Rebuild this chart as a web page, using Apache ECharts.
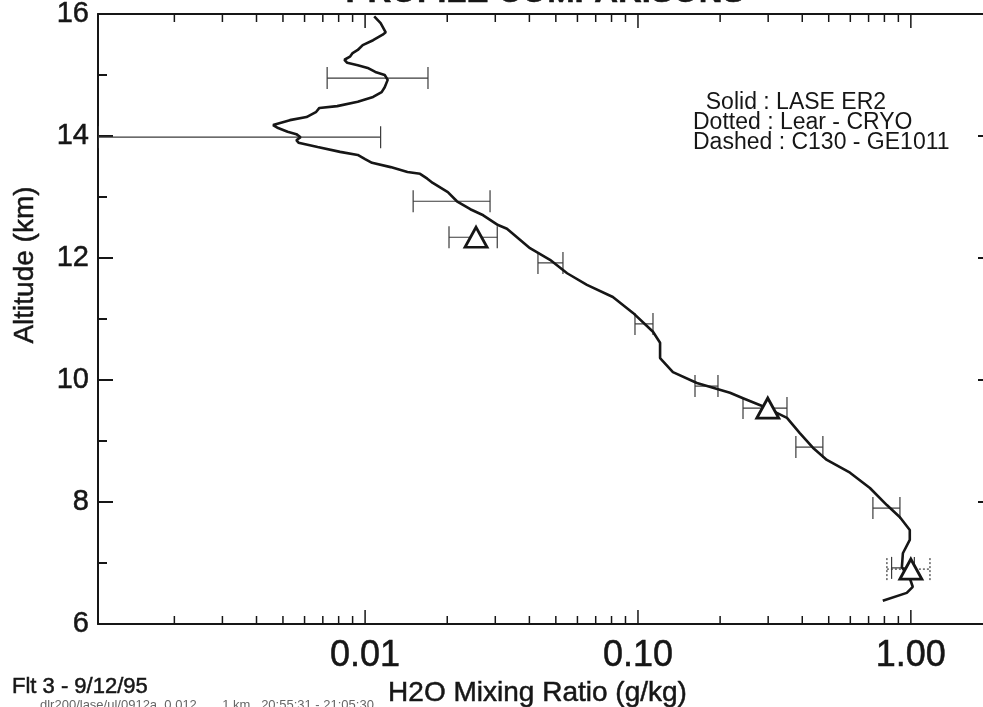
<!DOCTYPE html>
<html>
<head>
<meta charset="utf-8">
<script src="https://cdn.jsdelivr.net/npm/echarts@6/dist/echarts.min.js"></script>
<style>
  html, body { margin: 0; padding: 0; background: #ffffff; }
  #chart { width: 983px; height: 707px; }
</style>
</head>
<body>
<div id="chart"></div>
<script>
// LASE ER2 water vapour profile: mixing ratio (g/kg) against altitude (km)
const laseMixing = [
  0.0108, 0.0114, 0.0119, 0.0116, 0.0107, 0.0098, 0.0094, 0.0090, 0.0088, 0.0084,
  0.0086, 0.0094, 0.0103, 0.0109, 0.0118, 0.0121, 0.0118, 0.0115, 0.0107, 0.0094,
  0.0079, 0.0068, 0.0066, 0.0061, 0.0053, 0.0046, 0.0048, 0.0052, 0.0056, 0.0058,
  0.0056, 0.0057, 0.0067, 0.0081, 0.0094, 0.0100, 0.0106, 0.0124, 0.0143, 0.0159,
  0.0169, 0.0177, 0.0201, 0.0217, 0.0243, 0.0271, 0.0307, 0.0331, 0.0402, 0.0476,
  0.0550, 0.0650, 0.0809, 0.0959, 0.1135, 0.1205, 0.1205, 0.1343, 0.1644, 0.2173,
  0.2426, 0.2972, 0.3516, 0.3918, 0.4375, 0.4922, 0.5984, 0.7079, 0.8166, 0.9120,
  0.9910, 0.9910, 0.9350, 0.9270, 0.9910, 1.0160, 0.9660, 0.7890
];
const laseAltitude = [
  15.96, 15.85, 15.70, 15.66, 15.57, 15.49, 15.41, 15.36, 15.30, 15.25,
  15.20, 15.16, 15.11, 15.05, 15.00, 14.92, 14.80, 14.72, 14.64, 14.56,
  14.49, 14.46, 14.39, 14.31, 14.26, 14.18, 14.13, 14.07, 14.03, 13.98,
  13.93, 13.89, 13.82, 13.74, 13.69, 13.62, 13.56, 13.49, 13.41, 13.38,
  13.30, 13.23, 13.08, 12.93, 12.80, 12.70, 12.54, 12.48, 12.16, 11.97,
  11.75, 11.56, 11.36, 11.10, 10.79, 10.61, 10.36, 10.13, 9.95, 9.79,
  9.70, 9.54, 9.38, 9.13, 8.89, 8.69, 8.48, 8.23, 7.95, 7.75,
  7.54, 7.38, 7.16, 6.93, 6.75, 6.61, 6.51, 6.38
];

// LASE uncertainty bars (solid), one per km
const laseErrAltitude = [14.95, 13.98, 12.93, 11.92, 10.92, 9.90, 8.90, 7.90, 6.92];
const laseErrLow      = [0.00726, 0.00105, 0.0150, 0.0430, 0.0975, 0.1618, 0.379, 0.726, 0.850];
const laseErrHigh     = [0.0170, 0.0114, 0.0287, 0.0531, 0.1135, 0.1964, 0.476, 0.912, 1.030];

// In situ points (triangles) with their uncertainty bars
const insituMixing   = [0.0255, 0.299, 1.00];
const insituAltitude = [12.34, 9.54, 6.90];
const insituErrLow   = [0.0203, 0.2426, 0.817];
const insituErrHigh  = [0.0305, 0.3516, 1.175];
const insituDotted   = [false, false, true];

// Axis ticks
const xMajorTicks = [0.01, 0.1, 1];
const xMinorTicks = [
  0.002, 0.003, 0.004, 0.005, 0.006, 0.007, 0.008, 0.009,
  0.02, 0.03, 0.04, 0.05, 0.06, 0.07, 0.08, 0.09,
  0.2, 0.3, 0.4, 0.5, 0.6, 0.7, 0.8, 0.9
];
const X_MIN = 0.00105, X_MAX = 2;
const Y_MIN = 6, Y_MAX = 16;

const legendLines = ['Solid : LASE ER2', 'Dotted : Lear - CRYO', 'Dashed : C130 - GE1011'];

const INK = '#161616';
const FONT = '"Liberation Sans", Arial, Helvetica, sans-serif';

const chart = echarts.init(document.getElementById('chart'), null, { renderer: 'canvas' });

function errorBars(alts, lows, highs, dotted) {
  return {
    type: 'custom',
    clip: true,
    silent: true,
    z: 3,
    data: alts.map((a, i) => [lows[i], highs[i], a, dotted ? (dotted[i] ? 1 : 0) : 0]),
    encode: { x: [0, 1], y: 2 },
    renderItem(params, api) {
      const lo = api.coord([api.value(0), api.value(2)]);
      const hi = api.coord([api.value(1), api.value(2)]);
      const cap = 11;
      const style = {
        stroke: '#3a3a3a',
        lineWidth: 1.2,
        lineDash: api.value(3) ? [2, 2] : null
      };
      return {
        type: 'group',
        children: [
          { type: 'line', shape: { x1: lo[0], y1: lo[1], x2: hi[0], y2: hi[1] }, style },
          { type: 'line', shape: { x1: lo[0], y1: lo[1] - cap, x2: lo[0], y2: lo[1] + cap }, style },
          { type: 'line', shape: { x1: hi[0], y1: hi[1] - cap, x2: hi[0], y2: hi[1] + cap }, style }
        ]
      };
    }
  };
}

function xTicks(values, len) {
  return {
    type: 'custom',
    silent: true,
    z: 4,
    data: values.map(v => [v, Y_MIN]),
    encode: { x: 0, y: 1 },
    renderItem(params, api) {
      const b = api.coord([api.value(0), Y_MIN]);
      const t = api.coord([api.value(0), Y_MAX]);
      const style = { stroke: INK, lineWidth: 1.5 };
      return {
        type: 'group',
        children: [
          { type: 'line', shape: { x1: b[0], y1: b[1], x2: b[0], y2: b[1] - len }, style },
          { type: 'line', shape: { x1: t[0], y1: t[1], x2: t[0], y2: t[1] + len }, style }
        ]
      };
    }
  };
}

function isDecade(v) {
  const l = Math.log10(v);
  return Math.abs(l - Math.round(l)) < 1e-6;
}

const yAxisCommon = {
  type: 'value',
  min: Y_MIN,
  max: Y_MAX,
  interval: 2,
  axisLine: { show: true, lineStyle: { color: INK, width: 2 } },
  axisTick: { show: true, inside: true, length: 15, lineStyle: { color: INK, width: 2 } },
  minorTick: { show: true, splitNumber: 2, length: 9, lineStyle: { color: INK, width: 2 } },
  splitLine: { show: false }
};

// slightly heavier glyphs, like the printed original
const heavyLabel = { textBorderColor: INK, textBorderWidth: 0.5 };
const heavyText = { stroke: INK, lineWidth: 0.5 };

chart.setOption({
  animation: false,
  backgroundColor: '#ffffff',
  grid: {
    left: 98, top: 14, width: 895, height: 610,
    containLabel: false, outerBoundsMode: 'none'
  },
  xAxis: [
    {
      type: 'log',
      logBase: 10,
      min: X_MIN,
      max: X_MAX,
      position: 'bottom',
      axisLine: { show: true, lineStyle: { color: INK, width: 2 } },
      axisTick: { show: false },
      splitLine: { show: false },
      axisLabel: Object.assign({
        color: INK,
        fontFamily: FONT,
        fontSize: 36,
        margin: 14,
        showMinLabel: false,
        showMaxLabel: false,
        formatter: v => (isDecade(v) ? Number(v).toFixed(2) : '')
      }, heavyLabel),
      name: 'H2O Mixing Ratio (g/kg)',
      nameLocation: 'middle',
      nameGap: 46,
      nameTextStyle: Object.assign({ color: INK, fontFamily: FONT, fontSize: 28, padding: [0, 16, 0, 0] }, heavyLabel)
    },
    {
      type: 'log',
      logBase: 10,
      min: X_MIN,
      max: X_MAX,
      position: 'top',
      axisLine: { show: true, lineStyle: { color: INK, width: 2 } },
      axisTick: { show: false },
      axisLabel: { show: false },
      splitLine: { show: false }
    }
  ],
  yAxis: [
    Object.assign({}, yAxisCommon, {
      position: 'left',
      axisLabel: Object.assign({ color: INK, fontFamily: FONT, fontSize: 29, margin: 9 }, heavyLabel)
    }),
    Object.assign({}, yAxisCommon, {
      position: 'right',
      axisLabel: { show: false }
    })
  ],
  graphic: [
    {
      type: 'text', x: 545, y: 9, z: 10,
      style: Object.assign({
        text: 'PROFILE COMPARISONS', fill: INK, font: 'bold 33px ' + FONT,
        textAlign: 'center', textVerticalAlign: 'bottom'
      }, heavyText)
    },
    {
      type: 'text', x: 25, y: 265, rotation: Math.PI / 2, z: 10,
      style: Object.assign({
        text: 'Altitude (km)', fill: INK, font: '28px ' + FONT,
        textAlign: 'center', textVerticalAlign: 'middle'
      }, heavyText)
    },
    {
      type: 'text', x: 693, y: 93, z: 10,
      style: {
        text: legendLines.map((s, i) => (i === 0 ? '  ' + s : s)).join('\n'),
        fill: INK, font: '23px ' + FONT, lineHeight: 20
      }
    },
    {
      type: 'text', x: 12, y: 676, z: 10,
      style: Object.assign({ text: 'Flt 3 - 9/12/95', fill: INK, font: '22px ' + FONT }, heavyText)
    },
    {
      type: 'text', x: 40, y: 699, z: 10,
      style: { text: 'dlr200/lase/ul/0912a  0.012 ...   1 km   20:55:31 - 21:05:30', fill: '#666', font: '13px ' + FONT }
    }
  ],
  series: [
    xTicks(xMinorTicks, 8),
    xTicks(xMajorTicks, 14),
    errorBars(laseErrAltitude, laseErrLow, laseErrHigh, null),
    errorBars(insituAltitude, insituErrLow, insituErrHigh, insituDotted),
    {
      name: 'LASE ER2',
      type: 'line',
      data: laseMixing.map((v, i) => [v, laseAltitude[i]]),
      showSymbol: false,
      smooth: false,
      clip: true,
      z: 5,
      lineStyle: { color: INK, width: 2.6 }
    },
    {
      name: 'In situ',
      type: 'scatter',
      data: insituMixing.map((v, i) => [v, insituAltitude[i]]),
      symbol: 'triangle',
      symbolSize: [22, 20],
      z: 6,
      itemStyle: { color: '#ffffff', opacity: 1, borderColor: INK, borderWidth: 2.8 }
    }
  ]
});
</script>
</body>
</html>
